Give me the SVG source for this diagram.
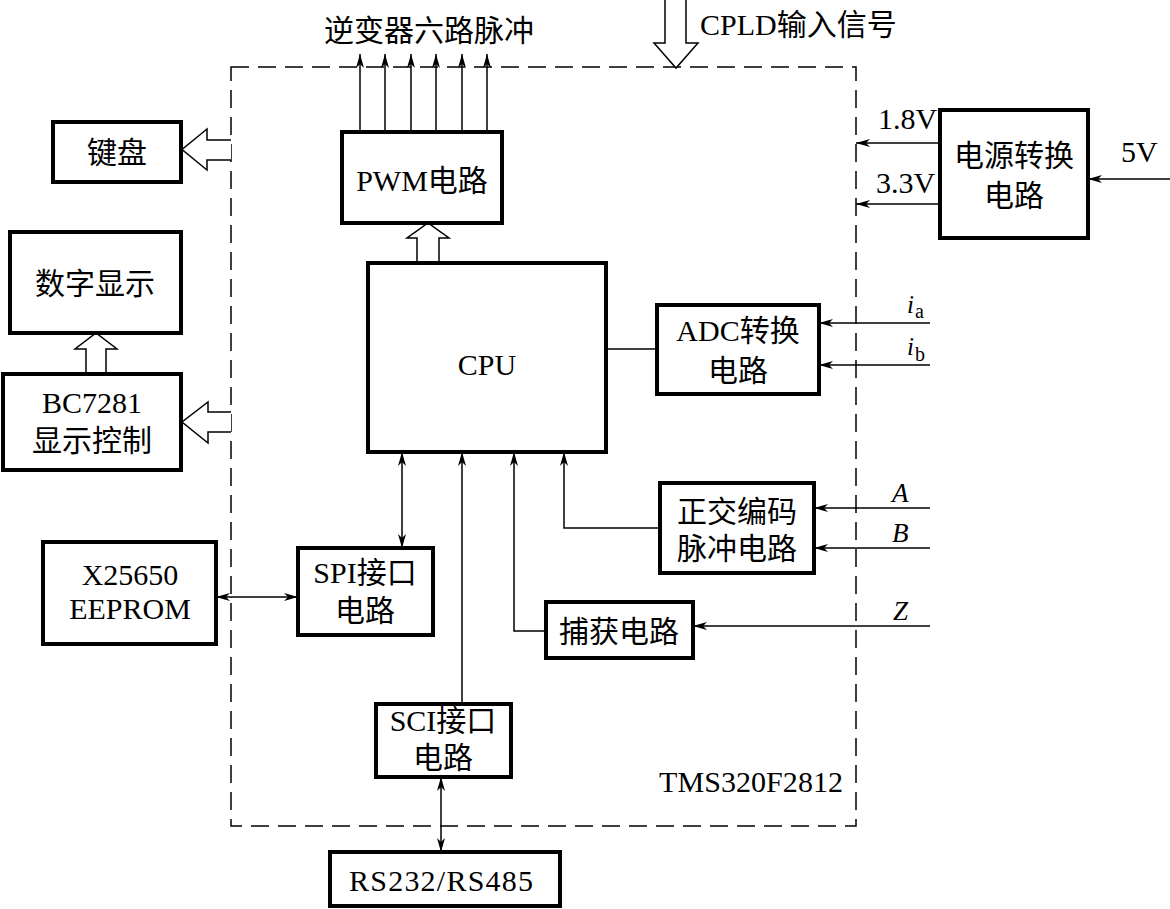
<svg xmlns="http://www.w3.org/2000/svg" width="1170" height="909" viewBox="0 0 1170 909">
<style>
.box{fill:#fff;stroke:#000;stroke-width:4}
.ln{fill:none;stroke:#000;stroke-width:1.5}
.hol{fill:#fff;stroke:#000;stroke-width:1.5;stroke-linejoin:miter}
.dash{fill:none;stroke:#000;stroke-width:1.5;stroke-dasharray:18 9}
text{font-family:"Liberation Serif","Noto Sans CJK SC",serif;font-size:30px;fill:#000}
.c{text-anchor:middle}
.it{font-style:italic}
</style>
<defs>
<marker id="ah" viewBox="0 0 14 8" refX="14" refY="4" markerWidth="14" markerHeight="8" orient="auto-start-reverse" markerUnits="userSpaceOnUse">
<path d="M0,0 L14,4 L0,8 L4,4 Z" fill="#000"/>
</marker>
</defs>
<rect class="dash" x="231" y="67" width="625" height="759"/>
<g id="connectors">
<line class="ln" x1="360" y1="132" x2="360" y2="54" marker-end="url(#ah)"/>
<line class="ln" x1="385" y1="132" x2="385" y2="54" marker-end="url(#ah)"/>
<line class="ln" x1="411" y1="132" x2="411" y2="54" marker-end="url(#ah)"/>
<line class="ln" x1="436" y1="132" x2="436" y2="54" marker-end="url(#ah)"/>
<line class="ln" x1="462" y1="132" x2="462" y2="54" marker-end="url(#ah)"/>
<line class="ln" x1="487" y1="132" x2="487" y2="54" marker-end="url(#ah)"/>
<polyline class="hol" points="665,0 665,43 654,43 676,68 698,43 686,43 686,0"/>
<polyline class="hol" points="231,140 207,140 207,129 182,149.5 207,170 207,160 231,160"/>
<polyline class="hol" points="231,412 208,412 208,402 182,422 208,443 208,432 231,432"/>
<polyline class="hol" points="86,374 86,349 75,349 96,333 117,349 106,349 106,374"/>
<polyline class="hol" points="417,263 417,238 407,238 428,223 449,238 439,238 439,263"/>
<line class="ln" x1="606" y1="349" x2="657" y2="349"/>
<line class="ln" x1="930" y1="323" x2="819" y2="323" marker-end="url(#ah)"/>
<line class="ln" x1="930" y1="365" x2="819" y2="365" marker-end="url(#ah)"/>
<line class="ln" x1="940" y1="143" x2="856" y2="143" marker-end="url(#ah)"/>
<line class="ln" x1="940" y1="204" x2="856" y2="204" marker-end="url(#ah)"/>
<line class="ln" x1="1170" y1="179" x2="1088" y2="179" marker-end="url(#ah)"/>
<line class="ln" x1="930" y1="508" x2="814" y2="508" marker-end="url(#ah)"/>
<line class="ln" x1="930" y1="548" x2="814" y2="548" marker-end="url(#ah)"/>
<line class="ln" x1="930" y1="626" x2="693" y2="626" marker-end="url(#ah)"/>
<polyline class="ln" points="660,528 564,528 564,452" marker-end="url(#ah)"/>
<polyline class="ln" points="546,631 514,631 514,452" marker-end="url(#ah)"/>
<line class="ln" x1="462" y1="704" x2="462" y2="452" marker-end="url(#ah)"/>
<line class="ln" x1="402" y1="548" x2="402" y2="452" marker-start="url(#ah)" marker-end="url(#ah)"/>
<line class="ln" x1="216" y1="597" x2="298" y2="597" marker-start="url(#ah)" marker-end="url(#ah)"/>
<line class="ln" x1="441" y1="777" x2="441" y2="852" marker-start="url(#ah)" marker-end="url(#ah)"/>
</g>
<g id="labels">
<text class="c" x="429" y="41">逆变器六路脉冲</text>
<text x="700" y="35">CPLD输入信号</text>
<text x="878" y="129">1.8V</text>
<text x="876" y="193">3.3V</text>
<text x="1121" y="162">5V</text>
<text class="it" x="907" y="313" style="font-size:25px">i</text><text x="915" y="318" style="font-size:20px">a</text>
<text class="it" x="907" y="355" style="font-size:25px">i</text><text x="915" y="361" style="font-size:20px">b</text>
<text class="it" x="892" y="502" style="font-size:27px">A</text>
<text class="it" x="892" y="542" style="font-size:27px">B</text>
<text class="it" x="893" y="620" style="font-size:27px">Z</text>
<text x="659" y="792" textLength="184" lengthAdjust="spacing">TMS320F2812</text>
</g>
<g id="kb"><rect class="box" x="53" y="122" width="128" height="60"/><text class="c" x="117" y="163">键盘</text></g>
<g id="disp"><rect class="box" x="10" y="232" width="171" height="101"/><text class="c" x="95" y="294">数字显示</text></g>
<g id="bc7281"><rect class="box" x="3" y="374" width="178" height="96"/><text class="c" x="92" y="413">BC7281</text><text class="c" x="92" y="451">显示控制</text></g>
<g id="eeprom"><rect class="box" x="43" y="542" width="173" height="102"/><text class="c" x="130" y="585">X25650</text><text class="c" x="130" y="619">EEPROM</text></g>
<g id="pwm"><rect class="box" x="342" y="132" width="160" height="91"/><text class="c" x="422" y="191">PWM电路</text></g>
<g id="cpu"><rect class="box" x="368" y="263" width="238" height="189"/><text class="c" x="487" y="375">CPU</text></g>
<g id="adc"><rect class="box" x="657" y="305" width="162" height="89"/><text class="c" x="738" y="341">ADC转换</text><text class="c" x="738" y="381">电路</text></g>
<g id="power"><rect class="box" x="940" y="110" width="148" height="128"/><text class="c" x="1014" y="166">电源转换</text><text class="c" x="1014" y="206">电路</text></g>
<g id="encoder"><rect class="box" x="660" y="483" width="154" height="90"/><text class="c" x="737" y="522">正交编码</text><text class="c" x="737" y="559">脉冲电路</text></g>
<g id="capture"><rect class="box" x="546" y="602" width="147" height="56"/><text class="c" x="619" y="642">捕获电路</text></g>
<g id="spi"><rect class="box" x="298" y="548" width="135" height="87"/><text class="c" x="365" y="583">SPI接口</text><text class="c" x="365" y="621">电路</text></g>
<g id="sci"><rect class="box" x="376" y="704" width="135" height="73"/><text class="c" x="443" y="731">SCI接口</text><text class="c" x="443" y="768">电路</text></g>
<g id="rs"><rect class="box" x="330" y="852" width="230" height="54"/><text x="349" y="891" textLength="184" lengthAdjust="spacing">RS232/RS485</text></g>
</svg>
